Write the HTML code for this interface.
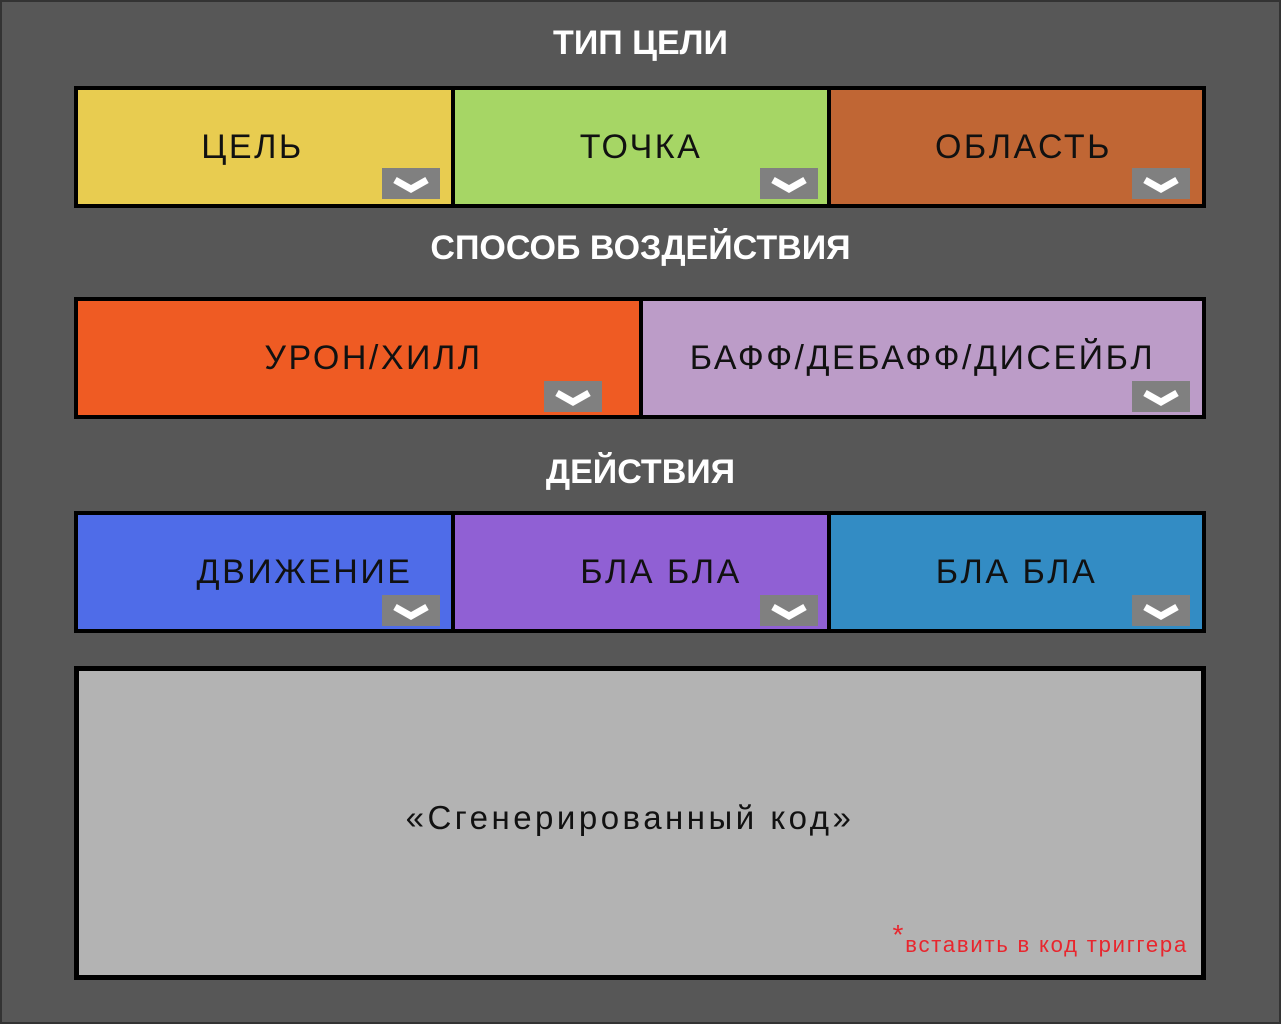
<!DOCTYPE html>
<html><head><meta charset="utf-8"><style>
body{margin:0;width:1281px;height:1024px;background:#575757;position:relative;overflow:hidden;font-family:"Liberation Sans","DejaVu Sans",sans-serif}
.frame{position:absolute;left:0;top:0;width:1277px;height:1020px;border:2px solid #333}
.h{position:absolute;left:0;width:1281px;text-align:center;color:#fff;font-weight:bold;font-size:34px}
.bar{position:absolute;left:74px;width:1124px;border:4px solid #000;height:114px;background:#000}
.c{position:absolute;top:0;height:114px;display:flex;align-items:center;justify-content:center;font-size:34px;color:#111;letter-spacing:2.5px;box-sizing:border-box}
.btn{position:absolute;width:58px;height:31px;background:#808080}
.btn svg{position:absolute;left:0;top:0}
.code{position:absolute;left:74px;top:666px;width:1122px;height:304px;border:5px solid #000;background:#b3b3b3}
</style></head><body>
<div class="frame"></div>
<div class="h" style="top:24px">ТИП ЦЕЛИ</div>
<div class="bar" style="top:86px">
 <div class="c" style="left:0;width:373px;background:#e8cc50;padding-right:24px">ЦЕЛЬ</div>
 <div class="c" style="left:377px;width:372px;background:#a6d665">ТОЧКА</div>
 <div class="c" style="left:753px;width:371px;background:#c06634;padding-left:14px">ОБЛАСТЬ</div>
</div>
<div class="h" style="top:229px">СПОСОБ ВОЗДЕЙСТВИЯ</div>
<div class="bar" style="top:297px">
 <div class="c" style="left:0;width:561px;background:#ef5b23;padding-left:30px">УРОН/ХИЛЛ</div>
 <div class="c" style="left:565px;width:559px;background:#bc9cc8">БАФФ/ДЕБАФФ/ДИСЕЙБЛ</div>
</div>
<div class="h" style="top:453px">ДЕЙСТВИЯ</div>
<div class="bar" style="top:511px">
 <div class="c" style="left:0;width:373px;background:#4f6ce8;padding-left:80px">ДВИЖЕНИЕ</div>
 <div class="c" style="left:377px;width:372px;background:#9060d4;padding-left:40px">БЛА БЛА</div>
 <div class="c" style="left:753px;width:371px;background:#338cc4">БЛА БЛА</div>
</div>
<div class="code">
 <div style="position:absolute;left:0;right:0;top:128px;text-align:center;font-size:33px;color:#111;letter-spacing:3.5px;padding-right:20px">«Сгенерированный код»</div>
 <div style="position:absolute;right:13px;top:248px;color:#e8262e;font-size:22px;letter-spacing:1.8px"><span style="font-size:28px;vertical-align:8px">*</span>вставить в код триггера</div>
</div>
<div class="btn" style="left:382px;top:168px"><svg width="58" height="31"><polyline points="13,12 29,21 45,12" fill="none" stroke="#fff" stroke-width="7"/></svg></div>
<div class="btn" style="left:760px;top:168px"><svg width="58" height="31"><polyline points="13,12 29,21 45,12" fill="none" stroke="#fff" stroke-width="7"/></svg></div>
<div class="btn" style="left:1132px;top:168px"><svg width="58" height="31"><polyline points="13,12 29,21 45,12" fill="none" stroke="#fff" stroke-width="7"/></svg></div>
<div class="btn" style="left:544px;top:381px"><svg width="58" height="31"><polyline points="13,12 29,21 45,12" fill="none" stroke="#fff" stroke-width="7"/></svg></div>
<div class="btn" style="left:1132px;top:381px"><svg width="58" height="31"><polyline points="13,12 29,21 45,12" fill="none" stroke="#fff" stroke-width="7"/></svg></div>
<div class="btn" style="left:382px;top:595px"><svg width="58" height="31"><polyline points="13,12 29,21 45,12" fill="none" stroke="#fff" stroke-width="7"/></svg></div>
<div class="btn" style="left:760px;top:595px"><svg width="58" height="31"><polyline points="13,12 29,21 45,12" fill="none" stroke="#fff" stroke-width="7"/></svg></div>
<div class="btn" style="left:1132px;top:595px"><svg width="58" height="31"><polyline points="13,12 29,21 45,12" fill="none" stroke="#fff" stroke-width="7"/></svg></div>
</body></html>
